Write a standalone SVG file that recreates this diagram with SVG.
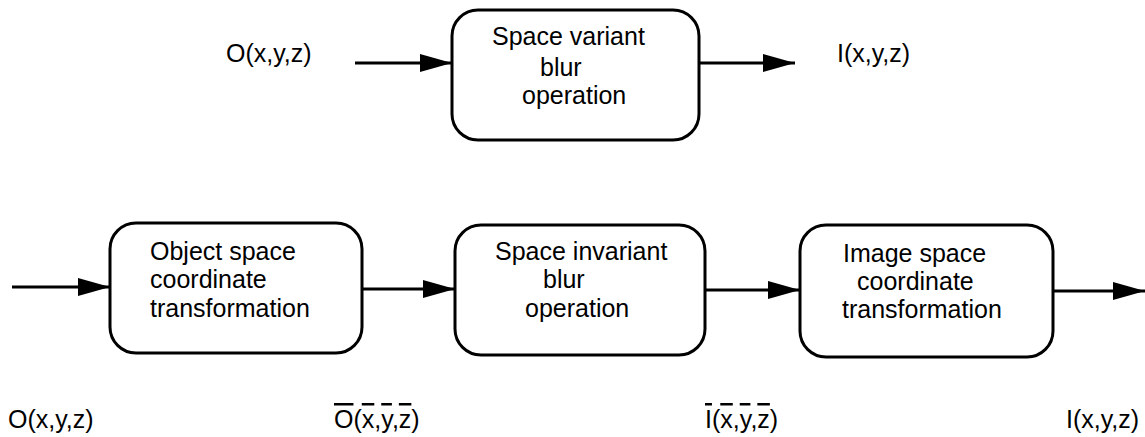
<svg xmlns="http://www.w3.org/2000/svg" width="1145" height="437" viewBox="0 0 1145 437">
<style>
  .box { fill: #ffffff; stroke: #000000; stroke-width: 3; }
  .edge { stroke: #000000; stroke-width: 3; fill: none; marker-end: url(#arrow); }
  text { font-family: "Liberation Sans", Arial, sans-serif; font-size: 25px; fill: #000000; }
  .ov { text-decoration: overline; }
</style>
<defs>
  <marker id="arrow" markerUnits="userSpaceOnUse" markerWidth="33" markerHeight="20" refX="32" refY="9" orient="auto">
    <path d="M0,0 L32,9 L0,18 Z" fill="#000000"/>
  </marker>
</defs>
<rect width="1145" height="437" fill="#ffffff"/>

<g id="connectors">
  <line class="edge" x1="355" y1="63" x2="452" y2="63"/>
  <line class="edge" x1="700" y1="63" x2="795" y2="63"/>
  <line class="edge" x1="12" y1="287" x2="110" y2="287"/>
  <line class="edge" x1="362" y1="289" x2="455" y2="289"/>
  <line class="edge" x1="705" y1="290" x2="800" y2="290"/>
  <line class="edge" x1="1053" y1="291" x2="1145" y2="291"/>
</g>

<g id="node-variant">
  <rect class="box" x="452" y="10" width="247" height="130" rx="26"/>
  <text x="492" y="45">Space variant</text>
  <text x="540" y="76">blur</text>
  <text x="522" y="104">operation</text>
</g>

<g id="node-object">
  <rect class="box" x="110" y="223" width="252" height="130" rx="26"/>
  <text x="150" y="260">Object space</text>
  <text x="150" y="288">coordinate</text>
  <text x="150" y="317">transformation</text>
</g>

<g id="node-invariant">
  <rect class="box" x="455" y="225" width="250" height="130" rx="26"/>
  <text x="495" y="260">Space invariant</text>
  <text x="543" y="288">blur</text>
  <text x="525" y="317">operation</text>
</g>

<g id="node-image">
  <rect class="box" x="800" y="225" width="253" height="132" rx="26"/>
  <text x="843" y="262">Image space</text>
  <text x="857" y="290">coordinate</text>
  <text x="842" y="318">transformation</text>
</g>

<g id="labels">
  <text x="226" y="62">O(x,y,z)</text>
  <text x="837" y="62">I(x,y,z)</text>
  <text x="8" y="428">O(x,y,z)</text>
  <text x="334" y="428"><tspan class="ov">O</tspan>(<tspan class="ov">x</tspan>,<tspan class="ov">y</tspan>,<tspan class="ov">z</tspan>)</text>
  <text x="705" y="428"><tspan class="ov">I</tspan>(<tspan class="ov">x</tspan>,<tspan class="ov">y</tspan>,<tspan class="ov">z</tspan>)</text>
  <text x="1066" y="428">I(x,y,z)</text>
</g>
</svg>
